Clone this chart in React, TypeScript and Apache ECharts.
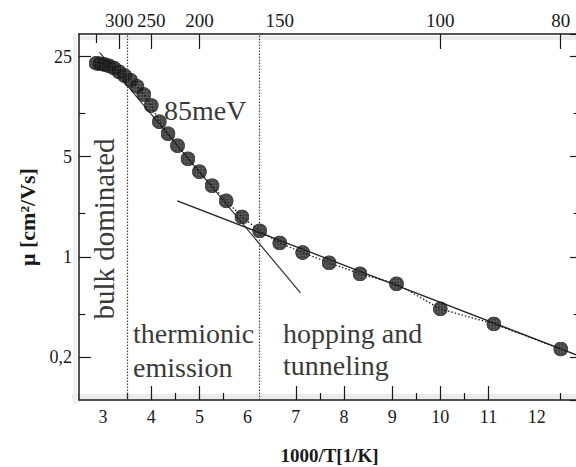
import React, { useEffect, useRef } from "react";
import * as echarts from "echarts";

// 1000/T [1/K] for T = 350 K ... 80 K in 10 K steps
const inverseTemperature = [
  2.857, 2.941, 3.03, 3.125, 3.226, 3.333, 3.448, 3.571, 3.704, 3.846, 4.0,
  4.167, 4.348, 4.545, 4.762, 5.0, 5.263, 5.556, 5.882, 6.25, 6.667, 7.143,
  7.692, 8.333, 9.091, 10.0, 11.111, 12.5,
];
// mobility μ [cm²/Vs]
const mobility = [
  22.5, 22.3, 22.0, 21.6, 20.8, 19.6, 18.4, 17.1, 15.5, 13.6, 11.4, 8.78,
  7.24, 5.97, 4.84, 3.93, 3.14, 2.46, 1.9, 1.52, 1.25, 1.07, 0.908, 0.761,
  0.648, 0.433, 0.34, 0.227,
];

// Arrhenius fit (85 meV), end points
const activationFitX = [2.926, 7.097];
const activationFitY = [26.8, 0.56];
// hopping / tunneling fit, end points
const hoppingFitX = [4.54, 12.9];
const hoppingFitY = [2.46, 0.202];

// regime boundaries in 1000/T
const regimeBoundaries = [3.5, 6.25];

const bottomTickLabels = [3, 4, 5, 6, 7, 8, 9, 10, 11, 12];
const bottomMajorTicks = [4, 5, 7, 8, 9, 10, 11];
const bottomMinorTicks = [3.5, 4.5, 5.5, 7.5, 9.5, 10.5, 12.5];

const topTemperatureLabels = [300, 250, 200, 150, 100, 80];
const topMajorTemperatures = [300, 250, 200, 100, 80];
const topMinorTemperatures = [350];

const mobilityMinorTicks = [10, 2, 0.4];

const X_MIN = 2.5;
const X_MAX = 12.9;
const Y_MIN = 0.1;
const Y_MAX = 36;

const SERIF = '"Liberation Serif", "Times New Roman", serif';
const INK = "#1a1a1a";
const NOTE = "#3a3a3a";

function pairs(xs: number[], ys: number[]) {
  return xs.map((x, i) => [x, ys[i]]);
}

// dark disc speckled with white dots, used as the data marker
const markerSvg =
  "<svg xmlns='http://www.w3.org/2000/svg' width='30' height='30' viewBox='0 0 30 30'>" +
  "<defs><pattern id='d' width='6' height='6' patternUnits='userSpaceOnUse'>" +
  "<rect width='6' height='6' fill='#181818'/>" +
  "<circle cx='3' cy='3' r='0.95' fill='#ffffff' fill-opacity='0.65'/>" +
  "</pattern></defs>" +
  "<circle cx='15' cy='15' r='14.5' fill='url(#d)'/>" +
  "<circle cx='15' cy='15' r='13.5' fill='none' stroke='#181818' stroke-width='2.5'/></svg>";
const markerSymbol = "image://data:image/svg+xml;charset=utf-8," + encodeURIComponent(markerSvg);

export default function App() {
  const ref = useRef<HTMLDivElement>(null);

  useEffect(() => {
    if (!ref.current) return;
    const chart = echarts.init(ref.current, undefined, { renderer: "svg" });

    const frameLine = { color: INK, width: 1.5 };
    const tickLine = { color: INK, width: 1.2 };

    const minorTickSegments: any[] = [];
    mobilityMinorTicks.forEach((v) => {
      minorTickSegments.push([{ coord: [X_MIN, v] }, { coord: [X_MIN + 0.13, v] }]);
      minorTickSegments.push([{ coord: [X_MAX - 0.13, v] }, { coord: [X_MAX, v] }]);
    });

    const option: any = {
      animation: false,
      backgroundColor: "#ffffff",
      textStyle: { fontFamily: SERIF },
      grid: { left: 79, top: 34, width: 501, height: 366, containLabel: false, outerBoundsMode: "none" },
      xAxis: [
        {
          type: "value",
          position: "bottom",
          min: X_MIN,
          max: X_MAX,
          name: "1000/T[1/K]",
          nameLocation: "middle",
          nameGap: 46,
          nameTextStyle: { fontFamily: SERIF, fontSize: 19, fontWeight: "bold", color: INK },
          axisLine: { show: true, onZero: false, lineStyle: frameLine },
          axisTick: { show: true, inside: true, length: 14, customValues: bottomMajorTicks, lineStyle: tickLine },
          axisLabel: { customValues: bottomTickLabels, fontFamily: SERIF, fontSize: 18, color: INK, margin: 8 },
          splitLine: { show: false },
        },
        {
          type: "value",
          position: "bottom",
          min: X_MIN,
          max: X_MAX,
          axisLine: { show: false, onZero: false },
          axisTick: { show: true, inside: true, length: 7, customValues: bottomMinorTicks, lineStyle: tickLine },
          axisLabel: { show: false },
          splitLine: { show: false },
        },
        {
          type: "value",
          position: "top",
          min: X_MIN,
          max: X_MAX,
          axisLine: { show: true, onZero: false, lineStyle: frameLine },
          axisTick: {
            show: true,
            inside: true,
            length: 15,
            customValues: topMajorTemperatures.map((t) => 1000 / t),
            lineStyle: tickLine,
          },
          axisLabel: {
            customValues: topTemperatureLabels.map((t) => 1000 / t),
            formatter: (v: number) => String(Math.round(1000 / v)),
            fontFamily: SERIF,
            fontSize: 19,
            color: INK,
            margin: 4,
          },
          splitLine: { show: false },
        },
        {
          type: "value",
          position: "top",
          min: X_MIN,
          max: X_MAX,
          axisLine: { show: false, onZero: false },
          axisTick: {
            show: true,
            inside: true,
            length: 9,
            customValues: topMinorTemperatures.map((t) => 1000 / t),
            lineStyle: tickLine,
          },
          axisLabel: { show: false },
          splitLine: { show: false },
        },
      ],
      yAxis: [
        {
          type: "log",
          logBase: 5,
          min: Y_MIN,
          max: Y_MAX,
          position: "left",
          name: "μ [cm²/Vs]",
          nameLocation: "middle",
          nameRotate: 90,
          nameGap: 40,
          nameTextStyle: { fontFamily: SERIF, fontSize: 22, fontWeight: "bold", color: INK },
          axisLine: { show: true, onZero: false, lineStyle: frameLine },
          axisTick: { show: true, inside: true, length: 12, lineStyle: tickLine },
          axisLabel: {
            showMinLabel: false,
            showMaxLabel: false,
            fontFamily: SERIF,
            fontSize: 18,
            color: INK,
            margin: 7,
            formatter: (v: number) => String(Number(v.toPrecision(3))).replace(".", ","),
          },
          splitLine: { show: false },
          minorTick: { show: false },
        },
        {
          type: "log",
          logBase: 5,
          min: Y_MIN,
          max: Y_MAX,
          position: "right",
          axisLine: { show: true, onZero: false, lineStyle: frameLine },
          axisTick: { show: true, inside: true, length: 10, lineStyle: tickLine },
          axisLabel: { show: false },
          splitLine: { show: false },
        },
      ],
      graphic: [
        { type: "rect", z: -10, shape: { x: 80, y: 36, width: 500, height: 4 }, style: { fill: "#ececec" } },
        { type: "rect", z: -10, shape: { x: 72, y: 394, width: 508, height: 5 }, style: { fill: "#ececec" } },
        { type: "rect", z: -10, shape: { x: 73, y: 34, width: 4, height: 370 }, style: { fill: "#f0f0f0" } },
        {
          type: "text",
          x: 164,
          y: 110,
          style: { text: "85meV", font: `28px ${SERIF}`, fill: NOTE, textAlign: "left", textVerticalAlign: "middle" },
        },
        {
          type: "text",
          x: 104,
          y: 229,
          rotation: Math.PI / 2,
          style: { text: "bulk dominated", font: `29px ${SERIF}`, fill: NOTE, textAlign: "center", textVerticalAlign: "middle" },
        },
        {
          type: "text",
          x: 133,
          y: 333,
          style: { text: "thermionic", font: `28px ${SERIF}`, fill: NOTE, textAlign: "left", textVerticalAlign: "middle" },
        },
        {
          type: "text",
          x: 133,
          y: 367,
          style: { text: "emission", font: `28px ${SERIF}`, fill: NOTE, textAlign: "left", textVerticalAlign: "middle" },
        },
        {
          type: "text",
          x: 283,
          y: 333,
          style: { text: "hopping and", font: `28px ${SERIF}`, fill: NOTE, textAlign: "left", textVerticalAlign: "middle" },
        },
        {
          type: "text",
          x: 283,
          y: 365,
          style: { text: "tunneling", font: `28px ${SERIF}`, fill: NOTE, textAlign: "left", textVerticalAlign: "middle" },
        },
      ],
      series: [
        {
          name: "regimes",
          type: "line",
          xAxisIndex: 0,
          yAxisIndex: 0,
          data: [],
          markLine: {
            silent: true,
            symbol: "none",
            label: { show: false },
            lineStyle: { type: [1.5, 1.5], color: "#444", width: 1.2 },
            data: regimeBoundaries.map((x) => ({ xAxis: x })),
          },
        },
        {
          name: "minor ticks",
          type: "line",
          xAxisIndex: 0,
          yAxisIndex: 0,
          data: [],
          markLine: {
            silent: true,
            symbol: "none",
            label: { show: false },
            lineStyle: { type: "solid", color: INK, width: 1.2 },
            data: minorTickSegments,
          },
        },
        {
          name: "85 meV",
          type: "line",
          xAxisIndex: 0,
          yAxisIndex: 0,
          data: pairs(activationFitX, activationFitY),
          showSymbol: false,
          lineStyle: { color: "#333", width: 1.2 },
          z: 3,
        },
        {
          name: "hopping",
          type: "line",
          xAxisIndex: 0,
          yAxisIndex: 0,
          data: pairs(hoppingFitX, hoppingFitY),
          showSymbol: false,
          lineStyle: { color: "#222", width: 1.3 },
          z: 3,
        },
        {
          name: "mobility trace",
          type: "line",
          xAxisIndex: 0,
          yAxisIndex: 0,
          data: pairs(inverseTemperature, mobility),
          showSymbol: false,
          lineStyle: { color: "#222", width: 1.3, type: [1.5, 2] },
          z: 3,
        },
        {
          name: "mobility",
          type: "scatter",
          xAxisIndex: 0,
          yAxisIndex: 0,
          data: pairs(inverseTemperature, mobility),
          symbol: markerSymbol,
          symbolSize: 15,
          z: 4,
        },
      ],
    };

    chart.setOption(option);
    return () => chart.dispose();
  }, []);

  return (
    <div
      ref={ref}
      style={{ position: "absolute", left: 0, top: 0, width: 576, height: 467, background: "#fff" }}
    />
  );
}
